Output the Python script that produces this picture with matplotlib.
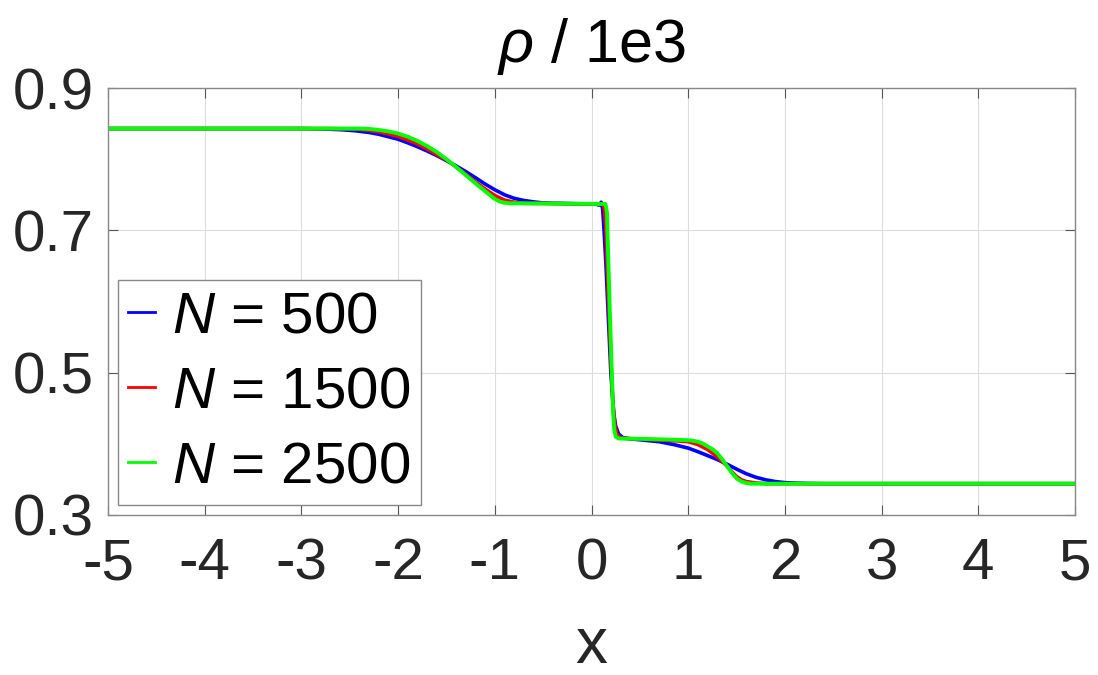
import numpy as np
import matplotlib
matplotlib.use('Agg')
import matplotlib.pyplot as plt

plt.rcParams['font.family'] = ['Liberation Sans', 'DejaVu Sans']
plt.rcParams['mathtext.fontset'] = 'custom'
plt.rcParams['mathtext.rm'] = 'Liberation Sans'
plt.rcParams['mathtext.it'] = 'Liberation Sans:italic'

# density profiles (rho / 1e3) at the final time for three grid sizes
x_500 = [-5.0, -3.0, -2.8, -2.6, -2.45, -2.3, -2.2, -2.1, -2.0, -1.9, -1.8, -1.7,
         -1.6, -1.5, -1.4, -1.3, -1.2, -1.1, -1.0, -0.9, -0.8, -0.7, -0.6, -0.5,
         -0.4, 0.0, 0.05, 0.08, 0.10, 0.115, 0.13, 0.15, 0.172, 0.20, 0.23, 0.25,
         0.28, 0.32, 0.4, 0.55, 0.7, 0.85, 1.0, 1.1, 1.2, 1.3, 1.4, 1.5, 1.6, 1.7,
         1.8, 1.9, 2.0, 2.1, 2.25, 2.4, 5.0]
rho_500 = [0.843, 0.843, 0.8425, 0.8415, 0.840, 0.8375, 0.835, 0.8315, 0.828, 0.823, 0.8175, 0.8115,
           0.805, 0.798, 0.7905, 0.7825, 0.774, 0.765, 0.757, 0.750, 0.745, 0.742, 0.740, 0.7385,
           0.738, 0.737, 0.7365, 0.7355, 0.7395, 0.730, 0.700, 0.650, 0.584, 0.500, 0.443, 0.425,
           0.414, 0.409, 0.407, 0.405, 0.403, 0.399, 0.394, 0.389, 0.3835, 0.378, 0.3715, 0.3645, 0.358, 0.353,
           0.3495, 0.347, 0.3455, 0.3448, 0.3443, 0.344, 0.344]

x_1500 = [-5.0, -2.7, -2.5, -2.4, -2.3, -2.2, -2.1, -2.0, -1.9, -1.8, -1.7, -1.6,
          -1.5, -1.4, -1.3, -1.2, -1.1, -1.0, -0.9, -0.8, -0.7, 0.12, 0.135, 0.15,
          0.165, 0.18, 0.20, 0.22, 0.24, 0.26, 0.30, 0.6, 0.9, 1.0, 1.1, 1.2, 1.25,
          1.3, 1.35, 1.4, 1.45, 1.5, 1.55, 1.6, 1.7, 1.8, 5.0]
rho_1500 = [0.843, 0.843, 0.8425, 0.842, 0.8405, 0.8385, 0.8355, 0.832, 0.827, 0.8215, 0.8145, 0.8065,
            0.799, 0.789, 0.779, 0.768, 0.758, 0.749, 0.7425, 0.7395, 0.738, 0.737, 0.728, 0.700,
            0.640, 0.590, 0.520, 0.460, 0.428, 0.414, 0.408, 0.406, 0.404, 0.403, 0.399, 0.392, 0.387,
            0.3815, 0.3755, 0.369, 0.361, 0.354, 0.3495, 0.347, 0.345, 0.344, 0.344]

x_2500 = [-5.0, -2.4, -2.3, -2.2, -2.1, -2.0, -1.9, -1.8, -1.7, -1.6, -1.5, -1.4,
          -1.3, -1.2, -1.1, -1.0, -0.95, -0.9, -0.85, -0.8, 0.145, 0.16, 0.165, 0.19,
          0.224, 0.235, 0.25, 0.28, 0.5, 0.8, 1.0, 1.05, 1.1, 1.15, 1.2, 1.25, 1.3,
          1.35, 1.4, 1.45, 1.5, 1.55, 1.6, 1.65, 5.0]
rho_2500 = [0.843, 0.843, 0.8425, 0.841, 0.839, 0.836, 0.8315, 0.8255, 0.8185, 0.810, 0.800, 0.789,
            0.7775, 0.766, 0.755, 0.744, 0.7405, 0.7388, 0.738, 0.738, 0.737, 0.725, 0.700, 0.584,
            0.443, 0.420, 0.410, 0.4075, 0.407, 0.406, 0.405, 0.4043, 0.403, 0.4005, 0.3965, 0.3925, 0.387,
            0.3785, 0.369, 0.3595, 0.3515, 0.347, 0.345, 0.344, 0.344]

xticks = np.arange(-5, 6, 1)
yticks = [0.3, 0.5, 0.7, 0.9]

fig = plt.figure(figsize=(10.98, 6.75), dpi=100)
ax = fig.add_axes([108 / 1098, 1 - 515 / 675, (1075 - 108) / 1098, (515 - 88) / 675])

ax.plot(x_500, rho_500, color='#0000ff', lw=2.6, label='$N$ = 500')
ax.plot(x_1500, rho_1500, color='#ff0000', lw=2.6, label='$N$ = 1500')
ax.plot(x_2500, rho_2500, color='#00ff00', lw=2.8, label='$N$ = 2500')

ax.set_xlim(-5, 5)
ax.set_ylim(0.3, 0.9)
ax.set_xticks(xticks)
ax.set_yticks(yticks)
ax.set_xticklabels([str(t) for t in xticks])
ax.set_yticklabels(['0.3', '0.5', '0.7', '0.9'])
ax.grid(True, color='#dddddd', lw=0.8)
ax.set_axisbelow(True)
ax.tick_params(direction='in', length=7, width=0.8, color='#555555',
               top=True, right=True, labelsize=42, labelcolor='#262626')
ax.tick_params(axis='x', pad=16)
ax.tick_params(axis='y', pad=10)
for s in ax.spines.values():
    s.set_color('#888888')
    s.set_linewidth(1.0)

ax.set_title(r'$\rho$ / 1e3', fontsize=44, color='#000000', pad=19)
ax.set_xlabel('x', fontsize=46, color='#262626', labelpad=18)

leg = ax.legend(loc='lower left', fontsize=42, frameon=True, fancybox=False,
                borderaxespad=0.17, handlelength=0.45, handletextpad=0.3,
                labelspacing=0.36, borderpad=0.18)
leg.get_frame().set_edgecolor('#888888')
leg.get_frame().set_linewidth(1.0)
leg.get_frame().set_alpha(1.0)
for line in leg.get_lines():
    line.set_linewidth(2.0)

fig.savefig('out.png', dpi=100)
